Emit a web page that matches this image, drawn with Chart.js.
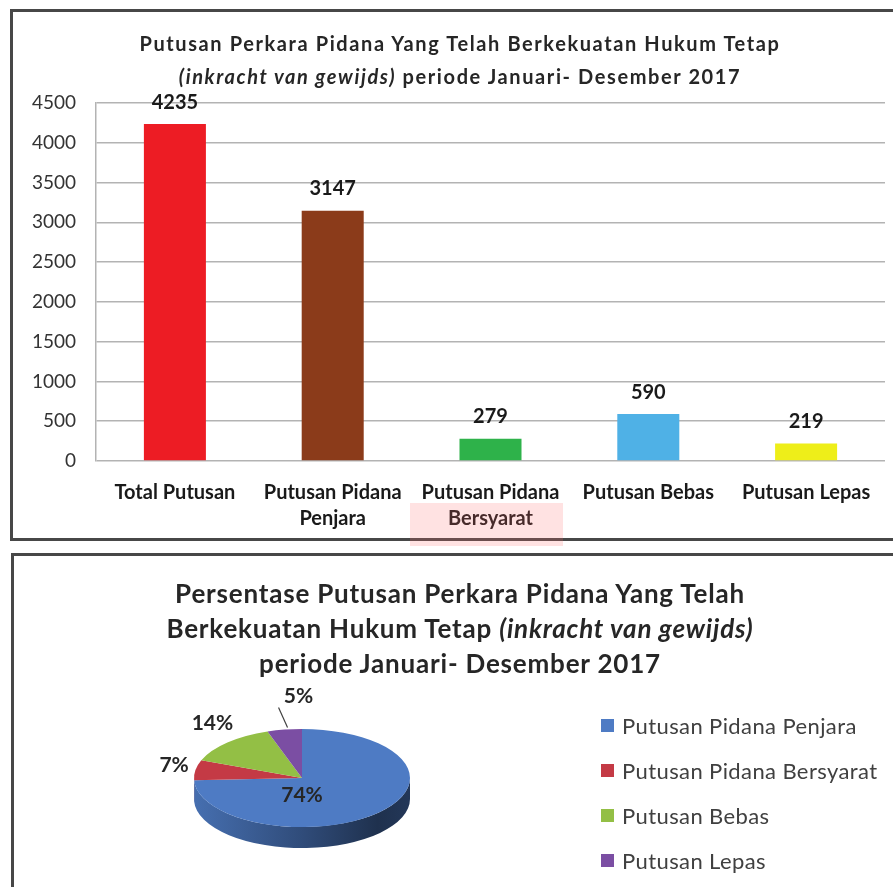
<!DOCTYPE html>
<html>
<head>
<meta charset="utf-8">
<script src="https://cdn.jsdelivr.net/npm/chart.js@4.4.0/dist/chart.umd.min.js"></script>
<style>
  body { margin: 0; width: 893px; height: 887px; overflow: hidden; background: #fff; position: relative; font-family: Lato, sans-serif; }
  .panel { position: absolute; border-top: 3px solid #474747; border-left: 3px solid #474747; }
  #panel1 { left: 10px; top: 9px; width: 900px; height: 526px; border-bottom: 3px solid #474747; }
  #panel2 { left: 11px; top: 553px; width: 900px; height: 400px; }
  canvas { position: absolute; }
  #barCanvas { left: 0; top: 0; }
  #pieCanvas { left: 0; top: 556px; }
  .title { position: absolute; text-align: center; font-weight: bold; color: #262626; white-space: nowrap; }
  #barTitle { left: 0; top: 27px; width: 920px; font-size: 20px; line-height: 33px; letter-spacing: 1.6px; }
  #pieTitle { left: 0; top: 576px; width: 920px; font-size: 26px; line-height: 35px; letter-spacing: 0.8px; }
  #pieLegend { position: absolute; left: 601px; top: 703px; font-size: 22px; color: #404040; letter-spacing: 0.4px; }
  #pieLegend div { height: 45px; display: flex; align-items: center; white-space: nowrap; }
  #pieLegend span.box { width: 13px; height: 13px; margin-right: 8px; display: inline-block; }
  #highlight { position: absolute; left: 410px; top: 503px; width: 153px; height: 43px; background: rgba(255, 110, 110, 0.2); }
</style>
</head>
<body>
<div class="panel" id="panel1"></div>
<div class="panel" id="panel2"></div>
<canvas id="barCanvas" width="893" height="540"></canvas>
<canvas id="pieCanvas" width="893" height="331"></canvas>
<div class="title" id="barTitle">Putusan Perkara Pidana Yang Telah Berkekuatan Hukum Tetap<br><i>(inkracht van gewijds)</i> periode Januari- Desember 2017</div>
<div class="title" id="pieTitle">Persentase Putusan Perkara Pidana Yang Telah<br>Berkekuatan Hukum Tetap <i>(inkracht van gewijds)</i><br>periode Januari- Desember 2017</div>
<div id="pieLegend"></div>
<div id="highlight"></div>

<script>
// bar chart data
var categories = ["Total Putusan", ["Putusan Pidana", "Penjara"], ["Putusan Pidana", "Bersyarat"], "Putusan Bebas", "Putusan Lepas"];
var counts = [4235, 3147, 279, 590, 219];
var barColors = ["#ed1c24", "#8b3b1a", "#2eb24a", "#4fb1e6", "#eeee19"];
var yMax = 4500;
var yStep = 500;

// pie chart data
var pieLabels = ["Putusan Pidana Penjara", "Putusan Pidana Bersyarat", "Putusan Bebas", "Putusan Lepas"];
var pieValues = [3147, 279, 590, 219];
var pieColors = ["#4e7bc4", "#c43a45", "#93bf45", "#7b4ea3"];

var pieTilt = 0.454;
var pieDepth = 21;

function shade(hex, f) {
  var n = parseInt(hex.slice(1), 16);
  var r = Math.round(((n >> 16) & 255) * f);
  var g = Math.round(((n >> 8) & 255) * f);
  var b = Math.round((n & 255) * f);
  return "rgb(" + r + "," + g + "," + b + ")";
}

var barValueLabels = {
  id: "barValueLabels",
  afterDatasetsDraw: function(chart) {
    var ctx = chart.ctx;
    var meta = chart.getDatasetMeta(0);
    ctx.save();
    ctx.font = "bold 20px Lato";
    ctx.fillStyle = "#1a1a1a";
    ctx.textAlign = "center";
    ctx.textBaseline = "middle";
    meta.data.forEach(function(bar, i) {
      ctx.fillText(chart.data.datasets[0].data[i], bar.x, bar.y - 22);
    });
    ctx.restore();
  }
};

new Chart("barCanvas", {
  type: "bar",
  data: {
    labels: categories,
    datasets: [{
      data: counts,
      backgroundColor: barColors,
      categoryPercentage: 1,
      barPercentage: 0.393
    }]
  },
  options: {
    responsive: false,
    animation: false,
    events: [],
    layout: { padding: { top: 103, right: 8, left: 0, bottom: 0 } },
    plugins: { legend: { display: false }, tooltip: { enabled: false } },
    scales: {
      x: {
        grid: { display: false, drawTicks: false },
        border: { display: false },
        ticks: {
          font: { family: "Lato", size: 20, weight: "bold", lineHeight: 1.3 },
          color: "#1a1a1a",
          padding: 19,
          maxRotation: 0,
          autoSkip: false
        },
        afterFit: function(s) { s.height = 79; }
      },
      y: {
        min: 0,
        max: yMax,
        ticks: {
          stepSize: yStep,
          font: { family: "Lato", size: 19 },
          color: "#333",
          padding: 20,
          callback: function(v) { return String(v); }
        },
        grid: { color: "#b3b3b3", lineWidth: 1.5, drawTicks: false },
        border: { display: true, color: "#b3b3b3", width: 1.5 },
        afterFit: function(s) { s.width = 96; }
      }
    }
  },
  plugins: [barValueLabels]
});

// fake 3D: squash the pie vertically and draw its front side wall
var pie3d = {
  id: "pie3d",
  beforeDatasetsDraw: function(chart) {
    var ctx = chart.ctx;
    var arcs = chart.getDatasetMeta(0).data;
    var cx = arcs[0].x, cy = arcs[0].y, r = arcs[0].outerRadius;
    ctx.save();
    ctx.translate(cx, cy);
    ctx.scale(1, pieTilt);
    ctx.translate(-cx, -cy);
    var d = pieDepth / pieTilt;
    arcs.forEach(function(arc, i) {
      [0, 2 * Math.PI].forEach(function(shift) {
        var a0 = Math.max(arc.startAngle, shift);
        var a1 = Math.min(arc.endAngle, shift + Math.PI);
        if (a1 <= a0) return;
        var c = chart.data.datasets[0].backgroundColor[i];
        var grad = ctx.createLinearGradient(cx - r, 0, cx + r, 0);
        grad.addColorStop(0, shade(c, 0.9));
        grad.addColorStop(0.5, shade(c, 0.62));
        grad.addColorStop(0.85, shade(c, 0.4));
        grad.addColorStop(1, shade(c, 0.45));
        ctx.beginPath();
        ctx.arc(cx, cy, r, a0, a1);
        ctx.arc(cx, cy + d, r, a1, a0, true);
        ctx.closePath();
        ctx.fillStyle = grad;
        ctx.fill();
      });
    });
  },
  afterDatasetsDraw: function(chart) {
    chart.ctx.restore();
  }
};

var piePercent = {
  id: "piePercent",
  afterDraw: function(chart) {
    var ctx = chart.ctx;
    var arcs = chart.getDatasetMeta(0).data;
    var vals = chart.data.datasets[0].data;
    var total = 0;
    for (var i = 0; i < vals.length; i++) total += vals[i];
    var cx = arcs[0].x, cy = arcs[0].y, rx = arcs[0].outerRadius, ry = rx * pieTilt;
    ctx.save();
    ctx.font = "bold 21px Lato";
    ctx.fillStyle = "#262626";
    ctx.textAlign = "center";
    ctx.textBaseline = "middle";
    arcs.forEach(function(arc, i) {
      var share = vals[i] / total;
      var pct = Math.round(share * 100) + "%";
      var mid = (arc.startAngle + arc.endAngle) / 2;
      var ca = Math.cos(mid), sa = Math.sin(mid);
      if (share > 0.5) {
        ctx.fillText(pct, cx, cy + ry * 0.35);
        return;
      }
      var ex = cx + ca * rx, ey = cy + sa * ry;
      if (share < 0.06) {
        ctx.strokeStyle = "#404040";
        ctx.lineWidth = 1.2;
        ctx.beginPath();
        ctx.moveTo(ex + 3, ey - 2);
        ctx.lineTo(ex - 6, ey - 22);
        ctx.stroke();
        ctx.fillText(pct, ex + 14, ey - 33);
      } else {
        ctx.fillText(pct, cx + ca * rx * 1.2, cy + sa * ry * 1.55);
      }
    });
    ctx.restore();
  }
};

new Chart("pieCanvas", {
  type: "pie",
  data: {
    labels: pieLabels,
    datasets: [{ data: pieValues, backgroundColor: pieColors, borderWidth: 0 }]
  },
  options: {
    responsive: false,
    animation: false,
    events: [],
    layout: { padding: { left: 194, right: 483, top: 114, bottom: 1 } },
    plugins: { legend: { display: false }, tooltip: { enabled: false } }
  },
  plugins: [pie3d, piePercent]
});

var legendBox = document.getElementById("pieLegend");
for (var i = 0; i < pieLabels.length; i++) {
  var row = document.createElement("div");
  row.innerHTML = '<span class="box" style="background:' + pieColors[i] + '"></span>' + pieLabels[i];
  legendBox.appendChild(row);
}
</script>
</body>
</html>
